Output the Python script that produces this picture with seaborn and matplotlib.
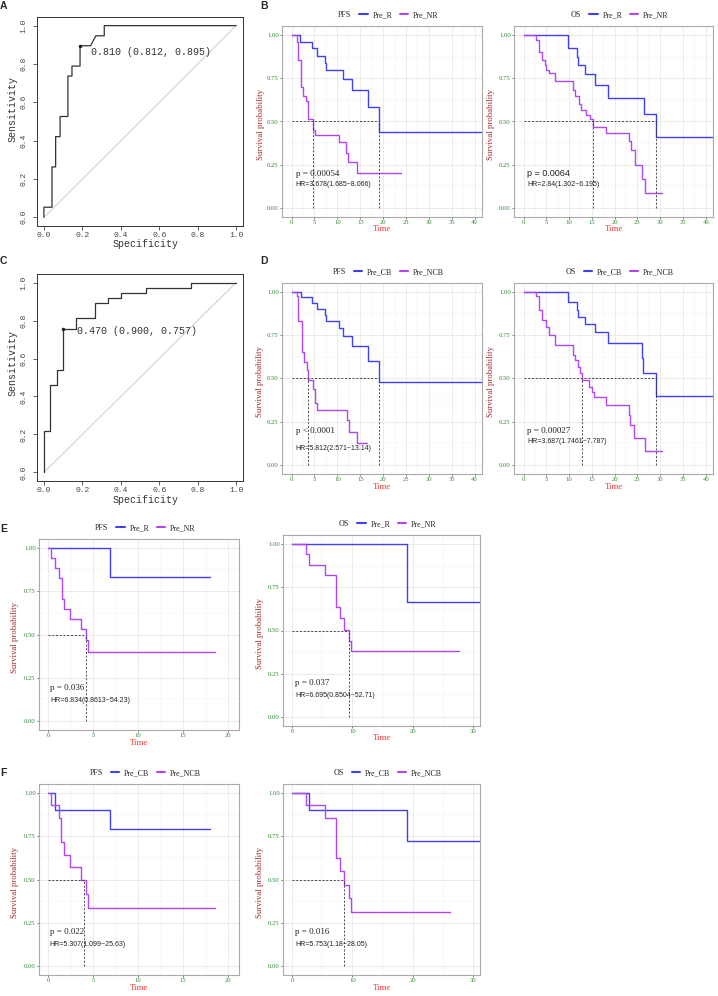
import matplotlib
matplotlib.use("Agg")
import numpy as np
import pandas as pd
import matplotlib.pyplot as plt
from matplotlib.lines import Line2D
from matplotlib.ticker import MultipleLocator
import seaborn as sns

W, H = 718, 996

# ---- ROC curves (x as drawn on the "Specificity" axis, y = sensitivity)
roc_a_x = [0, 0, 0.042, 0.042, 0.061, 0.061, 0.084, 0.084, 0.125, 0.125, 0.146, 0.146,
           0.188, 0.188, 0.243, 0.27, 0.314, 0.314, 1.0]
roc_a_y = [0, 0.053, 0.053, 0.263, 0.263, 0.421, 0.421, 0.526, 0.526, 0.737, 0.737, 0.789,
           0.789, 0.895, 0.895, 0.947, 0.947, 1.0, 1.0]
roc_a_best = (0.188, 0.895)
roc_a_label = "0.810 (0.812, 0.895)"

roc_c_x = [0, 0, 0.033, 0.033, 0.067, 0.067, 0.1, 0.1, 0.167, 0.167, 0.267, 0.267, 0.333,
           0.333, 0.4, 0.4, 0.533, 0.533, 0.767, 0.767, 1.0]
roc_c_y = [0, 0.22, 0.22, 0.459, 0.459, 0.541, 0.541, 0.757, 0.757, 0.811, 0.811, 0.892,
           0.892, 0.919, 0.919, 0.946, 0.946, 0.973, 0.973, 1.0, 1.0]
roc_c_best = (0.1, 0.757)
roc_c_label = "0.470 (0.900, 0.757)"

# ---- Kaplan-Meier curves: event times and survival after each step
b_pfs_r_t = [0, 1.9, 4.4, 5.5, 7.3, 7.5, 11.3, 13.3, 16.7, 19.1, 41.6]
b_pfs_r_s = [1.0, 0.962, 0.923, 0.88, 0.84, 0.80, 0.748, 0.681, 0.583, 0.4375, 0.4375]
b_pfs_nr_t = [0, 1.1, 1.5, 2.0, 2.5, 3.1, 3.5, 3.6, 4.7, 5.1, 10.4, 11.9, 12.4, 14.2, 23.8]
b_pfs_nr_s = [1.0, 0.962, 0.855, 0.70, 0.648, 0.62, 0.565, 0.516, 0.449, 0.42, 0.38, 0.32,
              0.265, 0.203, 0.203]
b_pfs_med = [4.7, 19.1]

b_os_r_t = [0, 9.65, 11.8, 12.0, 13.6, 15.7, 18.6, 26.5, 29.0, 41.6]
b_os_r_s = [1.0, 0.923, 0.874, 0.826, 0.774, 0.71, 0.636, 0.545, 0.409, 0.409]
b_os_nr_t = [0, 2.8, 3.4, 4.1, 4.6, 5.0, 5.5, 7.0, 10.9, 11.4, 12.2, 12.7, 13.7, 14.6, 15.3,
             18.0, 23.1, 23.6, 24.4, 26.0, 26.6, 30.3]
b_os_nr_s = [1.0, 0.97, 0.90, 0.855, 0.826, 0.80, 0.78, 0.733, 0.68, 0.65, 0.60, 0.565, 0.536,
             0.515, 0.468, 0.433, 0.39, 0.333, 0.25, 0.168, 0.085, 0.085]
b_os_med = [15.3, 29.0]

d_pfs_cb_t = [0, 1.96, 4.36, 5.6, 7.3, 7.5, 10.4, 11.3, 13.3, 16.7, 19.1, 41.6]
d_pfs_cb_s = [1.0, 0.969, 0.936, 0.90, 0.868, 0.835, 0.79, 0.746, 0.688, 0.603, 0.48, 0.48]
d_pfs_ncb_t = [0, 1.1, 1.5, 2.2, 2.7, 3.3, 3.6, 4.7, 5.1, 5.45, 12.1, 12.6, 14.3, 16.4]
d_pfs_ncb_s = [1.0, 0.975, 0.835, 0.655, 0.597, 0.548, 0.494, 0.44, 0.36, 0.316, 0.258, 0.19,
               0.128, 0.128]
d_pfs_med = [3.6, 19.1]

d_os_cb_t = [0, 9.65, 11.7, 12.0, 13.6, 15.7, 18.5, 26.0, 26.2, 29.0, 41.6]
d_os_cb_s = [1.0, 0.94, 0.897, 0.858, 0.814, 0.767, 0.703, 0.616, 0.529, 0.397, 0.397]
d_os_ncb_t = [0, 2.8, 3.4, 4.1, 5.0, 5.5, 7.0, 10.9, 11.4, 12.0, 12.4, 12.9, 14.4, 15.1, 15.4,
              18.0, 23.1, 23.4, 24.3, 26.6, 30.3]
d_os_ncb_s = [1.0, 0.975, 0.897, 0.839, 0.80, 0.752, 0.694, 0.636, 0.607, 0.568, 0.533, 0.49,
              0.452, 0.422, 0.393, 0.349, 0.287, 0.234, 0.157, 0.079, 0.079]
d_os_med = [12.9, 29.0]

e_pfs_r_t = [0, 6.9, 18.0]
e_pfs_r_s = [1.0, 0.833, 0.833]
e_pfs_nr_t = [0, 0.3, 0.74, 1.2, 1.5, 1.75, 2.4, 3.7, 4.26, 4.44, 18.5]
e_pfs_nr_s = [1.0, 0.941, 0.882, 0.824, 0.706, 0.647, 0.588, 0.529, 0.466, 0.396, 0.396]
e_pfs_med = [4.26]

e_os_r_t = [0, 19.1, 31.1]
e_os_r_s = [1.0, 0.667, 0.667]
e_os_nr_t = [0, 2.26, 2.75, 5.4, 7.2, 7.33, 8.0, 8.6, 9.37, 9.7, 27.6]
e_os_nr_s = [1.0, 0.94, 0.88, 0.82, 0.69, 0.635, 0.57, 0.505, 0.44, 0.38, 0.38]
e_os_med = [9.37]

f_pfs_cb_t = [0, 0.74, 6.9, 18.0]
f_pfs_cb_s = [1.0, 0.90, 0.79, 0.79]
f_pfs_ncb_t = [0, 0.3, 1.18, 1.48, 1.74, 2.4, 3.7, 4.25, 4.44, 18.5]
f_pfs_ncb_s = [1.0, 0.929, 0.857, 0.714, 0.643, 0.571, 0.50, 0.418, 0.334, 0.334]
f_pfs_med = [4.0]

f_os_cb_t = [0, 2.75, 19.1, 31.1]
f_os_cb_s = [1.0, 0.903, 0.723, 0.723]
f_os_ncb_t = [0, 2.26, 5.4, 7.2, 7.3, 8.0, 8.6, 9.37, 9.7, 26.1]
f_os_ncb_s = [1.0, 0.929, 0.857, 0.70, 0.626, 0.548, 0.467, 0.393, 0.312, 0.312]
f_os_med = [8.6]

BLUE = "#4040F5"
PURPLE = "#B046F5"
GREEN = "#2E8B2E"
SERIF = ["Liberation Serif", "DejaVu Serif"]
SANS = ["Liberation Sans", "DejaVu Sans"]
MONO = ["Liberation Mono", "DejaVu Sans Mono"]

sns.set_theme(style="whitegrid")
plt.rcParams["font.family"] = SERIF

fig = plt.figure(figsize=(W / 100, H / 100), dpi=100)


def add_box(left, top, right, bottom):
    return fig.add_axes([left / W, 1 - bottom / H, (right - left) / W, (bottom - top) / H])


def ftext(x, y, s, **kw):
    fig.text(x / W, 1 - y / H, s, **kw)


def draw_roc(box, xs, ys, best, label, label_xy, xlab, ylab):
    ax = add_box(*box)
    ax.set_facecolor("white")
    ax.grid(False)
    sns.lineplot(x=[0, 1], y=[0, 1], color="#CCCCCC", lw=0.7, ax=ax)
    df = pd.DataFrame({"fpr": xs, "tpr": ys})
    sns.lineplot(data=df, x="fpr", y="tpr", sort=False, estimator=None,
                 color="#333333", lw=0.9, ax=ax)
    ax.plot(best[0], best[1], marker="o", ms=1.5, color="#222222")
    ax.text(label_xy[0], label_xy[1], label, family=MONO, size=7.2,
            color="#333333", va="center", ha="left")
    ax.set_xlim(-0.036, 1.036)
    ax.set_ylim(-0.045, 1.045)
    ticks = [0, 0.2, 0.4, 0.6, 0.8, 1.0]
    ax.set_xticks(ticks)
    ax.set_xticklabels([f"{t:.1f}" for t in ticks], family=MONO)
    ax.set_yticks(ticks)
    ax.set_yticklabels([f"{t:.1f}" for t in ticks], family=MONO, rotation=90, va="center")
    ax.tick_params(axis="x", direction="out", length=3, width=0.6, pad=1.5,
                   labelsize=5.8, colors="#444444", bottom=True)
    ax.tick_params(axis="y", direction="out", length=3, width=0.6, pad=4.0,
                   labelsize=5.8, colors="#444444", left=True)
    for sp in ax.spines.values():
        sp.set_color("#333333")
        sp.set_linewidth(0.7)
    ax.set_xlabel("")
    ax.set_ylabel("")
    ftext(xlab[0], xlab[1], "Specificity", family=MONO, size=7.2, color="#333333",
          ha="center", va="center")
    ftext(ylab[0], ylab[1], "Sensitivity", family=MONO, size=7.2, color="#333333",
          ha="center", va="center", rotation=90)


def draw_km(p):
    ax = add_box(*p["box"])
    ax.set_facecolor("white")
    frames = []
    for name, (t, s) in zip(p["names"], p["curves"]):
        frames.append(pd.DataFrame({"time": t, "surv": s, "group": name}))
    df = pd.concat(frames, ignore_index=True)
    sns.lineplot(data=df, x="time", y="surv", hue="group", hue_order=list(p["names"]),
                 palette=[BLUE, PURPLE], estimator=None, sort=False, legend=False,
                 drawstyle="steps-post", lw=1.0, ax=ax)
    dash = dict(color="#333333", lw=0.6, ls=(0, (2.5, 2)))
    ax.plot([0, max(p["medians"])], [0.5, 0.5], **dash)
    for m in p["medians"]:
        ax.plot([m, m], [0, 0.5], **dash)
    ax.text(p["txt_x"], p["p_y"], p["p"], family=p["p_font"], size=6.5, va="center",
            color="#222222")
    ax.text(p["txt_x"], p["hr_y"], p["hr"], family=SANS, size=5.0, va="center",
            color="#222222")
    ax.set_xlim(*p["xlim"])
    ax.set_ylim(-0.052, 1.052)
    ax.set_xticks(p["xticks"])
    ax.set_xticklabels([str(x) for x in p["xticks"]])
    yt = [0, 0.25, 0.5, 0.75, 1.0]
    ax.set_yticks(yt)
    ax.set_yticklabels([f"{v:.2f}" for v in yt])
    step = p["xticks"][1] - p["xticks"][0]
    ax.xaxis.set_minor_locator(MultipleLocator(step / 2))
    ax.yaxis.set_minor_locator(MultipleLocator(0.125))
    ax.grid(which="major", color="#E6E6E6", lw=0.55)
    ax.grid(which="minor", color="#F2F2F2", lw=0.35)
    ax.tick_params(which="major", direction="out", length=1.6, width=0.5, color="#444444",
                   pad=0.8, labelsize=4.8, labelcolor=GREEN, bottom=True, left=True)
    ax.tick_params(which="minor", length=0)
    for sp in ax.spines.values():
        sp.set_color("#AAAAAA")
        sp.set_linewidth(0.8)
    ax.set_xlabel("")
    ax.set_ylabel("")
    l, t, r, b = p["box"]
    ftext(p["ylab_x"], (t + b) / 2 + 3, "Survival probability", size=6.3, color="#A52A2A",
          ha="center", va="center", rotation=90)
    ftext((l + r) / 2, p["time_y"], "Time", size=6.3, color="#FF3333",
          ha="center", va="center")
    handles = [Line2D([], [], lw=0),
               Line2D([], [], color=BLUE, lw=1.5),
               Line2D([], [], color=PURPLE, lw=1.5)]
    labels = [p["kind"], p["names"][0], p["names"][1]]
    fig.legend(handles, labels, loc="center", ncol=3, frameon=False,
               bbox_to_anchor=((l + r) / 2 / W, 1 - (t - 11) / H),
               prop={"family": SERIF, "size": 5.8}, handlelength=1.0,
               handletextpad=0.6, columnspacing=1.0, borderpad=0)


draw_roc((37, 17, 243, 226), roc_a_x, roc_a_y, roc_a_best, roc_a_label,
         (0.245, 0.864), (146, 244), (13, 109))
draw_roc((37, 274, 243, 481), roc_c_x, roc_c_y, roc_c_best, roc_c_label,
         (0.172, 0.745), (146, 500), (13, 363))

big_ticks = list(range(0, 41, 5))
panels = [
    dict(box=(282, 26, 482, 217), xlim=(-2.1, 41.6), xticks=big_ticks, kind="PFS",
         names=("Pre_R", "Pre_NR"), curves=((b_pfs_r_t, b_pfs_r_s), (b_pfs_nr_t, b_pfs_nr_s)),
         medians=b_pfs_med, p="p = 0.00054", hr="HR=3.678(1.685~8.066)", p_font=SERIF,
         txt_x=0.9, p_y=0.197, hr_y=0.135, ylab_x=261, time_y=229),
    dict(box=(514, 26, 713, 217), xlim=(-2.1, 41.6), xticks=big_ticks, kind="OS",
         names=("Pre_R", "Pre_NR"), curves=((b_os_r_t, b_os_r_s), (b_os_nr_t, b_os_nr_s)),
         medians=b_os_med, p="p = 0.0064", hr="HR=2.84(1.302~6.195)", p_font=SANS,
         txt_x=0.8, p_y=0.197, hr_y=0.135, ylab_x=491, time_y=229),
    dict(box=(282, 283, 482, 474), xlim=(-2.1, 41.6), xticks=big_ticks, kind="PFS",
         names=("Pre_CB", "Pre_NCB"), curves=((d_pfs_cb_t, d_pfs_cb_s), (d_pfs_ncb_t, d_pfs_ncb_s)),
         medians=d_pfs_med, p="p < 0.0001", hr="HR=5.812(2.571~13.14)", p_font=SERIF,
         txt_x=0.9, p_y=0.194, hr_y=0.093, ylab_x=260, time_y=487),
    dict(box=(514, 283, 713, 474), xlim=(-2.1, 41.6), xticks=big_ticks, kind="OS",
         names=("Pre_CB", "Pre_NCB"), curves=((d_os_cb_t, d_os_cb_s), (d_os_ncb_t, d_os_ncb_s)),
         medians=d_os_med, p="p = 0.00027", hr="HR=3.687(1.7461~7.787)", p_font=SERIF,
         txt_x=0.8, p_y=0.196, hr_y=0.136, ylab_x=491, time_y=487),
    dict(box=(39, 539, 239, 730), xlim=(-1.0, 21.2), xticks=[0, 5, 10, 15, 20], kind="PFS",
         names=("Pre_R", "Pre_NR"), curves=((e_pfs_r_t, e_pfs_r_s), (e_pfs_nr_t, e_pfs_nr_s)),
         medians=e_pfs_med, p="p = 0.036", hr="HR=6.834(0.8613~54.23)", p_font=SERIF,
         txt_x=0.26, p_y=0.19, hr_y=0.12, ylab_x=15, time_y=743),
    dict(box=(283, 535, 480, 726), xlim=(-1.5, 31.1), xticks=[0, 10, 20, 30], kind="OS",
         names=("Pre_R", "Pre_NR"), curves=((e_os_r_t, e_os_r_s), (e_os_nr_t, e_os_nr_s)),
         medians=e_os_med, p="p = 0.037", hr="HR=6.695(0.8504~52.71)", p_font=SERIF,
         txt_x=0.55, p_y=0.196, hr_y=0.122, ylab_x=260, time_y=738),
    dict(box=(39, 784, 239, 975), xlim=(-1.0, 21.2), xticks=[0, 5, 10, 15, 20], kind="PFS",
         names=("Pre_CB", "Pre_NCB"), curves=((f_pfs_cb_t, f_pfs_cb_s), (f_pfs_ncb_t, f_pfs_ncb_s)),
         medians=f_pfs_med, p="p = 0.022", hr="HR=5.307(1.099~25.63)", p_font=SERIF,
         txt_x=0.2, p_y=0.198, hr_y=0.124, ylab_x=15, time_y=988),
    dict(box=(283, 784, 480, 975), xlim=(-1.5, 31.1), xticks=[0, 10, 20, 30], kind="OS",
         names=("Pre_CB", "Pre_NCB"), curves=((f_os_cb_t, f_os_cb_s), (f_os_ncb_t, f_os_ncb_s)),
         medians=f_os_med, p="p = 0.016", hr="HR=5.753(1.18~28.05)", p_font=SERIF,
         txt_x=0.55, p_y=0.198, hr_y=0.124, ylab_x=260, time_y=988),
]
for p in panels:
    draw_km(p)

for letter, x, y in [("A", 0, 6), ("B", 260, 6), ("C", 0, 261), ("D", 260, 261),
                     ("E", 0, 529), ("F", 0, 773)]:
    ftext(x, y, letter, family=SANS, weight="bold", size=7.5, ha="left", va="center")

fig.savefig("out.png", dpi=100, facecolor="white")
